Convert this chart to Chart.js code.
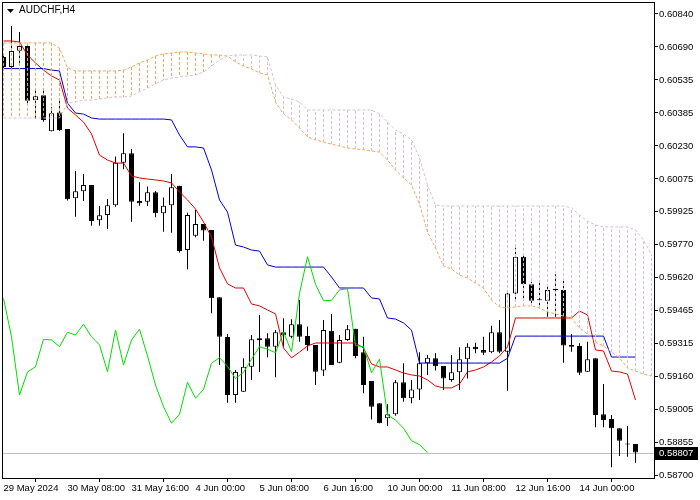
<!DOCTYPE html>
<html>
<head>
<meta charset="utf-8">
<title>AUDCHF H4</title>
<script src="https://cdn.jsdelivr.net/npm/chart.js@4.4.1/dist/chart.umd.min.js"></script>
<style>
  body { margin: 0; background: #fff; }
  canvas { display: block; }
</style>
</head>
<body>
<canvas id="chart" width="700" height="500"></canvas>
<script>
const symbol = 'AUDCHF,H4';

// a time label every 8 bars
const timeLabels = ['29 May 2024', '30 May 08:00', '31 May 16:00', '4 Jun 00:00', '5 Jun 08:00',
  '6 Jun 16:00', '10 Jun 00:00', '11 Jun 08:00', '12 Jun 16:00', '14 Jun 00:00'];
const barsPerLabel = 8;

const priceLabels = ['0.60840', '0.60690', '0.60535', '0.60385', '0.60230', '0.60075', '0.59925', '0.59770',
  '0.59620', '0.59465', '0.59315', '0.59160', '0.59005', '0.58855', '0.58700'];

const opens = [
  0.60641, 0.60594, 0.60670, 0.60692, 0.60440, 0.60463, 0.60296, 0.60383, 0.60307, 0.59986,
  0.60018, 0.60047, 0.59884, 0.59908, 0.59953, 0.60151, 0.60194, 0.59973, 0.59970, 0.60014,
  0.59916, 0.59953, 0.60044, 0.59746, 0.59812, 0.59867, 0.59839, 0.59527, 0.59343, 0.59074,
  0.59089, 0.59205, 0.59337, 0.59337, 0.59298, 0.59365, 0.59344, 0.59402, 0.59348, 0.59306,
  0.59187, 0.59372, 0.59224, 0.59329, 0.59381, 0.59272, 0.59139, 0.59036, 0.58966, 0.58985,
  0.59133, 0.59059, 0.59100, 0.59221, 0.59244, 0.59208, 0.59144, 0.59179, 0.59240, 0.59298,
  0.59283, 0.59272, 0.59365, 0.59275, 0.59545, 0.59715, 0.59587, 0.59518, 0.59511, 0.59561,
  0.59561, 0.59306, 0.59301, 0.59182, 0.59244, 0.58985, 0.58963, 0.58920, 0.58847, 0.58847
];
const highs = [
  0.60659, 0.60784, 0.60757, 0.60706, 0.60497, 0.60488, 0.60409, 0.60441, 0.60307, 0.60112,
  0.60098, 0.60047, 0.59950, 0.59982, 0.60179, 0.60287, 0.60214, 0.60060, 0.60040, 0.60020,
  0.59990, 0.60098, 0.60044, 0.59919, 0.59931, 0.59867, 0.59839, 0.59527, 0.59357, 0.59190,
  0.59244, 0.59352, 0.59445, 0.59360, 0.59375, 0.59430, 0.59425, 0.59514, 0.59391, 0.59306,
  0.59422, 0.59450, 0.59352, 0.59398, 0.59381, 0.59344, 0.59139, 0.59036, 0.59031, 0.59144,
  0.59221, 0.59144, 0.59272, 0.59259, 0.59267, 0.59208, 0.59259, 0.59295, 0.59314, 0.59316,
  0.59344, 0.59395, 0.59422, 0.59561, 0.59757, 0.59723, 0.59599, 0.59607, 0.59579, 0.59634,
  0.59610, 0.59357, 0.59314, 0.59321, 0.59244, 0.59125, 0.58981, 0.58920, 0.58930, 0.58847
];
const lows = [
  0.60580, 0.60585, 0.60613, 0.60427, 0.60356, 0.60341, 0.60296, 0.60298, 0.59975, 0.59900,
  0.59973, 0.59859, 0.59859, 0.59843, 0.59947, 0.60120, 0.59877, 0.59951, 0.59950, 0.59898,
  0.59831, 0.59826, 0.59735, 0.59657, 0.59805, 0.59789, 0.59453, 0.59213, 0.59038, 0.59038,
  0.59089, 0.59144, 0.59181, 0.59249, 0.59156, 0.59298, 0.59337, 0.59321, 0.59279, 0.59120,
  0.59162, 0.59213, 0.59221, 0.59326, 0.59244, 0.59082, 0.58961, 0.58943, 0.58930, 0.58978,
  0.59043, 0.59036, 0.59051, 0.59167, 0.59187, 0.59097, 0.59136, 0.59097, 0.59151, 0.59267,
  0.59259, 0.59267, 0.59267, 0.59094, 0.59514, 0.59522, 0.59499, 0.59476, 0.59437, 0.59437,
  0.59224, 0.59275, 0.59167, 0.59182, 0.58924, 0.58924, 0.58739, 0.58791, 0.58788, 0.58760
];
const closes = [
  0.60594, 0.60669, 0.60692, 0.60438, 0.60459, 0.60349, 0.60380, 0.60302, 0.59981, 0.60018,
  0.60047, 0.59880, 0.59907, 0.59953, 0.60151, 0.60194, 0.59970, 0.59963, 0.60014, 0.59916,
  0.59951, 0.60037, 0.59741, 0.59908, 0.59867, 0.59836, 0.59522, 0.59344, 0.59074, 0.59181,
  0.59205, 0.59332, 0.59329, 0.59298, 0.59365, 0.59352, 0.59402, 0.59344, 0.59306, 0.59182,
  0.59375, 0.59213, 0.59329, 0.59379, 0.59255, 0.59120, 0.59020, 0.58943, 0.58985, 0.59133,
  0.59059, 0.59100, 0.59221, 0.59247, 0.59207, 0.59150, 0.59179, 0.59240, 0.59298, 0.59286,
  0.59270, 0.59365, 0.59275, 0.59545, 0.59715, 0.59587, 0.59511, 0.59513, 0.59561, 0.59567,
  0.59303, 0.59298, 0.59177, 0.59240, 0.58981, 0.58958, 0.58920, 0.58862, 0.58844, 0.58807
];

// Ichimoku
const tenkan = [
  0.60715, 0.60715, 0.60710, 0.60650, 0.60613, 0.60580, 0.60553, 0.60534, 0.60404, 0.60372,
  0.60339, 0.60284, 0.60186, 0.60163, 0.60149, 0.60149, 0.60089, 0.60080, 0.60075, 0.60071,
  0.60066, 0.60057, 0.60015, 0.59978, 0.59936, 0.59876, 0.59806, 0.59663, 0.59589, 0.59570,
  0.59570, 0.59496, 0.59487, 0.59468, 0.59450, 0.59292, 0.59246, 0.59273, 0.59301, 0.59315,
  0.59315, 0.59315, 0.59315, 0.59315, 0.59315, 0.59292, 0.59218, 0.59204, 0.59204, 0.59190,
  0.59176, 0.59167, 0.59162, 0.59144, 0.59116, 0.59107, 0.59107, 0.59125, 0.59181, 0.59190,
  0.59204, 0.59227, 0.59255, 0.59297, 0.59431, 0.59431, 0.59431, 0.59431, 0.59431, 0.59431,
  0.59431, 0.59431, 0.59463, 0.59445, 0.59283, 0.59278, 0.59185, 0.59181, 0.59171, 0.59051
];
const kijun = [
  0.60587, 0.60587, 0.60587, 0.60587, 0.60587, 0.60587, 0.60580, 0.60576, 0.60427, 0.60381,
  0.60376, 0.60358, 0.60353, 0.60353, 0.60353, 0.60353, 0.60353, 0.60353, 0.60353, 0.60353,
  0.60353, 0.60349, 0.60279, 0.60224, 0.60224, 0.60219, 0.60117, 0.59978, 0.59922, 0.59769,
  0.59760, 0.59746, 0.59741, 0.59677, 0.59667, 0.59667, 0.59667, 0.59667, 0.59667, 0.59667,
  0.59667, 0.59621, 0.59570, 0.59570, 0.59570, 0.59570, 0.59524, 0.59519, 0.59431, 0.59426,
  0.59408, 0.59375, 0.59222, 0.59222, 0.59222, 0.59222, 0.59222, 0.59222, 0.59222, 0.59222,
  0.59222, 0.59222, 0.59222, 0.59244, 0.59347, 0.59347, 0.59347, 0.59347, 0.59347, 0.59347,
  0.59347, 0.59347, 0.59347, 0.59347, 0.59347, 0.59347, 0.59250, 0.59250, 0.59250, 0.59250
];
const chikou = [
  0.59522, 0.59344, 0.59074, 0.59181, 0.59205, 0.59332, 0.59329, 0.59298, 0.59365, 0.59352,
  0.59402, 0.59344, 0.59306, 0.59182, 0.59375, 0.59213, 0.59329, 0.59379, 0.59255, 0.59120,
  0.59020, 0.58943, 0.58985, 0.59133, 0.59059, 0.59100, 0.59221, 0.59247, 0.59207, 0.59150,
  0.59179, 0.59240, 0.59298, 0.59286, 0.59270, 0.59365, 0.59275, 0.59545, 0.59715, 0.59587,
  0.59511, 0.59513, 0.59561, 0.59567, 0.59303, 0.59298, 0.59177, 0.59240, 0.58981, 0.58958,
  0.58920, 0.58862, 0.58844, 0.58807
];
const spanA = [
  0.60706, 0.60706, 0.60706, 0.60706, 0.60706, 0.60706, 0.60706, 0.60682, 0.60590, 0.60576,
  0.60576, 0.60576, 0.60576, 0.60576, 0.60576, 0.60580, 0.60594, 0.60613, 0.60627, 0.60645,
  0.60655, 0.60659, 0.60664, 0.60664, 0.60659, 0.60655, 0.60650, 0.60650, 0.60645, 0.60618,
  0.60599, 0.60585, 0.60567, 0.60557, 0.60432, 0.60377, 0.60349, 0.60312, 0.60270, 0.60256,
  0.60247, 0.60237, 0.60228, 0.60219, 0.60214, 0.60210, 0.60205, 0.60200, 0.60163, 0.60117,
  0.60080, 0.60047, 0.59959, 0.59830, 0.59755, 0.59672, 0.59658, 0.59630, 0.59616, 0.59593,
  0.59570, 0.59514, 0.59482, 0.59477, 0.59482, 0.59487, 0.59487, 0.59477, 0.59459, 0.59450,
  0.59440, 0.59431, 0.59385, 0.59357, 0.59320, 0.59301, 0.59273, 0.59246, 0.59199, 0.59185,
  0.59171, 0.59162
];
const spanB = [
  0.60358, 0.60358, 0.60358, 0.60358, 0.60358, 0.60358, 0.60358, 0.60358, 0.60427, 0.60432,
  0.60441, 0.60441, 0.60446, 0.60451, 0.60455, 0.60455, 0.60460, 0.60479, 0.60497, 0.60516,
  0.60534, 0.60543, 0.60548, 0.60553, 0.60557, 0.60571, 0.60599, 0.60627, 0.60645, 0.60650,
  0.60650, 0.60650, 0.60645, 0.60641, 0.60511, 0.60455, 0.60446, 0.60432, 0.60395, 0.60395,
  0.60395, 0.60395, 0.60395, 0.60395, 0.60395, 0.60395, 0.60395, 0.60377, 0.60339, 0.60302,
  0.60284, 0.60256, 0.60173, 0.60047, 0.59955, 0.59950, 0.59950, 0.59950, 0.59950, 0.59950,
  0.59950, 0.59950, 0.59950, 0.59950, 0.59950, 0.59950, 0.59950, 0.59950, 0.59950, 0.59950,
  0.59950, 0.59941, 0.59908, 0.59880, 0.59862, 0.59853, 0.59853, 0.59853, 0.59853, 0.59839,
  0.59792, 0.59723
];

const lastPrice = closes[closes.length - 1];
const SANDY = '#f4a460';
const THISTLE = '#d8bfd8';
const FONT = '"Liberation Sans", Arial, sans-serif';

const xy = arr => arr.map((v, i) => ({ x: i, y: v }));

// kumo hatch: one vertical dotted stroke per bar, from span A to span B, broken by null
const hatch = [];
spanA.forEach((a, i) => {
  hatch.push({ x: i, y: a }, { x: i, y: spanB[i] }, { x: i, y: null });
});
const hatchColor = i => spanA[i] >= spanB[i] ? SANDY : THISTLE;

const extras = {
  id: 'extras',
  beforeDatasetsDraw(chart) {
    const { ctx, chartArea: a, scales } = chart;
    const py = Math.round(scales.y.getPixelForValue(lastPrice)) + 0.5;
    ctx.save();
    ctx.strokeStyle = '#c0c0c0';
    ctx.lineWidth = 1;
    ctx.beginPath();
    ctx.moveTo(a.left, py);
    ctx.lineTo(a.right, py);
    ctx.stroke();
    ctx.restore();
  },
  afterDraw(chart) {
    const { ctx, chartArea: a, scales } = chart;
    ctx.save();
    ctx.strokeStyle = '#000';
    ctx.lineWidth = 1;
    ctx.strokeRect(a.left + 0.5, a.top + 0.5, a.right - a.left, a.bottom - a.top);

    ctx.fillStyle = '#000';
    ctx.beginPath();
    ctx.moveTo(a.left + 5, a.top + 7);
    ctx.lineTo(a.left + 12, a.top + 7);
    ctx.lineTo(a.left + 8.5, a.top + 11);
    ctx.closePath();
    ctx.fill();
    ctx.font = '10px ' + FONT;
    ctx.textBaseline = 'middle';
    ctx.fillText(symbol, a.left + 17, a.top + 8.5);

    const py = Math.round(scales.y.getPixelForValue(lastPrice));
    ctx.fillRect(a.right + 1, py - 6, 43, 13);
    ctx.fillStyle = '#fff';
    ctx.font = '9.5px ' + FONT;
    ctx.fillText(lastPrice.toFixed(5), a.right + 5, py + 0.5);
    ctx.restore();
  }
};

Chart.defaults.font.family = FONT;
Chart.defaults.font.size = 9.5;
Chart.defaults.color = '#000';

const barOpts = { grouped: false, borderSkipped: false, inflateAmount: 0 };

new Chart(document.getElementById('chart'), {
  type: 'line',
  data: {
    datasets: [
      {
        type: 'bar', ...barOpts, order: 20,
        data: lows.map((l, i) => ({ x: i, y: [l, highs[i]] })),
        backgroundColor: '#000', barThickness: 1
      },
      {
        type: 'bar', ...barOpts, order: 19,
        data: opens.map((o, i) => ({ x: i, y: [o, closes[i]] })),
        backgroundColor: opens.map((o, i) => closes[i] > o ? '#fff' : '#000'),
        borderColor: '#000', borderWidth: 1, barThickness: 5, minBarLength: 1
      },
      { label: 'Tenkan-sen', data: xy(tenkan), borderColor: '#e00000', order: 15 },
      { label: 'Kijun-sen', data: xy(kijun), borderColor: '#0000d0', order: 14 },
      {
        label: 'Kumo', data: hatch, order: 12, spanGaps: false,
        borderColor: SANDY, borderDash: [3, 2],
        segment: { borderColor: c => hatchColor(Math.floor(c.p0DataIndex / 3)) }
      },
      { label: 'Chikou Span', data: xy(chikou), borderColor: '#00dd00', order: 11 },
      { label: 'Senkou Span A', data: xy(spanA), borderColor: SANDY, borderDash: [3, 2], order: 10 },
      { label: 'Senkou Span B', data: xy(spanB), borderColor: THISTLE, borderDash: [3, 2], order: 9 }
    ]
  },
  options: {
    responsive: false,
    animation: false,
    devicePixelRatio: 1,
    layout: { padding: { top: 2, left: 2, right: 0, bottom: 0 } },
    elements: {
      line: { borderWidth: 1, tension: 0, fill: false },
      point: { radius: 0 }
    },
    plugins: { legend: { display: false }, tooltip: { enabled: false } },
    scales: {
      x: {
        type: 'linear', min: -0.1875, max: 81.3125, offset: false,
        afterBuildTicks: s => { s.ticks = timeLabels.map((t, k) => ({ value: k * barsPerLabel })); },
        afterFit: s => { s.height = 22; s.paddingLeft = 0; s.paddingRight = 0; },
        grid: { drawOnChartArea: false, tickLength: 4, color: '#000' },
        border: { display: false },
        ticks: { autoSkip: false, maxRotation: 0, align: 'start', padding: 1, callback: (v, i) => timeLabels[i] }
      },
      y: {
        type: 'linear', position: 'right', min: 0.586893, max: 0.608956,
        afterBuildTicks: s => {
          const top = parseFloat(priceLabels[0]);
          const step = (top - parseFloat(priceLabels[priceLabels.length - 1])) / (priceLabels.length - 1);
          s.ticks = priceLabels.map((p, k) => ({ value: top - k * step }));
        },
        afterFit: s => { s.width = 46; s.paddingTop = 0; s.paddingBottom = 0; },
        grid: { drawOnChartArea: false, tickLength: 4, color: '#000' },
        border: { display: false },
        ticks: { autoSkip: false, padding: 1, callback: (v, i) => priceLabels[i] }
      }
    }
  },
  plugins: [extras]
});
</script>
</body>
</html>
